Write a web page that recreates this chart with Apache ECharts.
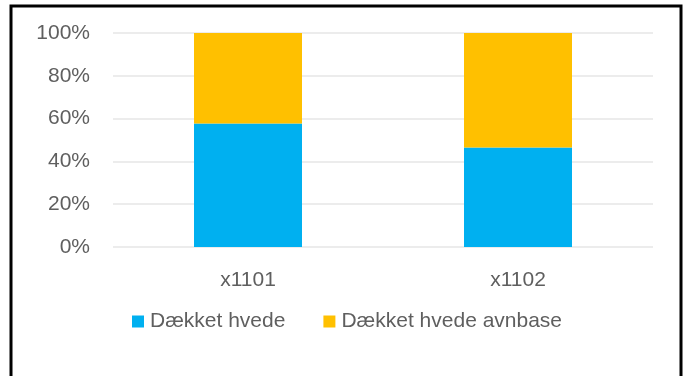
<!DOCTYPE html>
<html>
<head>
<meta charset="utf-8">
<script src="https://cdn.jsdelivr.net/npm/echarts@6/dist/echarts.min.js"></script>
<style>
html,body{margin:0;padding:0;background:#fff;}
#c{width:683px;height:376px;}
</style>
</head>
<body>
<div id="c"></div>
<script>
const categories = ['x1101', 'x1102'];
const seriesNames = ['Dækket hvede', 'Dækket hvede avnbase'];
const coveredWheat = [57.7, 46.5];
const coveredWheatChaff = [42.3, 53.5];
const yTicks = [0, 20, 40, 60, 80, 100];

const chart = echarts.init(document.getElementById('c'), null, {renderer: 'canvas'});
const txt = '#5f5f5f';
const font = '"Liberation Sans", Arial, sans-serif';
chart.setOption({
  animation: false,
  backgroundColor: '#ffffff',
  graphic: [{
    type: 'rect',
    shape: {x: 11, y: 6, width: 670, height: 400},
    style: {fill: 'none', stroke: '#000', lineWidth: 3},
    silent: true
  }],
  grid: {left: 113, right: 30, top: 33, bottom: 129},
  legend: {
    data: seriesNames,
    left: 127,
    top: 306,
    itemWidth: 12,
    itemHeight: 12,
    itemGap: 38,
    icon: 'rect',
    textStyle: {color: txt, fontSize: 21, fontFamily: font, padding: [0, 0, 0, 1]}
  },
  xAxis: {
    type: 'category',
    data: categories,
    axisLine: {show: false},
    axisTick: {show: false},
    axisLabel: {color: txt, fontSize: 21, fontFamily: font, margin: 23}
  },
  yAxis: {
    type: 'value',
    min: yTicks[0],
    max: yTicks[yTicks.length - 1],
    interval: 20,
    axisLine: {show: false},
    axisTick: {show: false},
    splitLine: {lineStyle: {color: '#e6e6e6', width: 1.5}},
    axisLabel: {color: txt, fontSize: 21, fontFamily: font, margin: 23, formatter: v => v + '%', padding: [2, 0, 0, 0]}
  },
  series: [
    {name: seriesNames[0], type: 'bar', stack: 's', data: coveredWheat, barWidth: 108,
     itemStyle: {color: '#00B0F0'}},
    {name: seriesNames[1], type: 'bar', stack: 's', data: coveredWheatChaff, barWidth: 108,
     itemStyle: {color: '#FFC000'}}
  ]
});
</script>
</body>
</html>
